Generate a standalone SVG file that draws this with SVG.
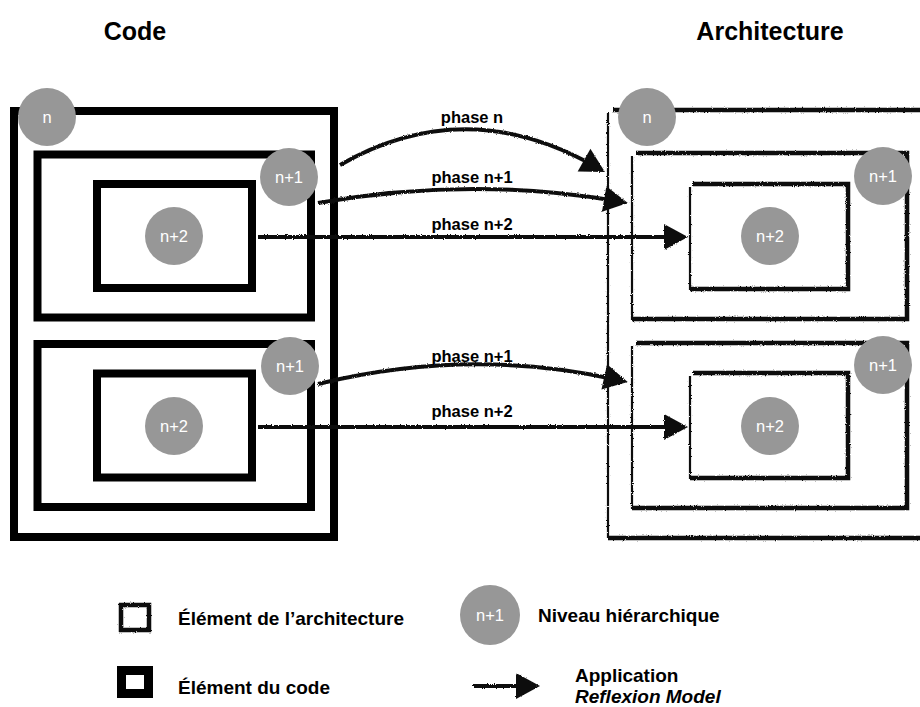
<svg xmlns="http://www.w3.org/2000/svg" width="920" height="707" viewBox="0 0 920 707">
<style>
  .code { fill: none; stroke: #000; stroke-width: 8; }
  .archThin { fill: none; stroke: #111; stroke-width: 2.2; }
  .archThick { fill: none; stroke: #111; stroke-width: 4.5; stroke-linejoin: miter; }
  .dot { fill: #979797; }
  .dotTxt { font-family: "Liberation Sans", Arial, sans-serif; font-size: 16.5px; fill: #fff; text-anchor: middle; }
  .title { font-family: "Liberation Sans", Arial, sans-serif; font-size: 25px; font-weight: bold; fill: #000; text-anchor: middle; }
  .phase { font-family: "Liberation Sans", Arial, sans-serif; font-size: 16.5px; font-weight: bold; fill: #000; text-anchor: middle; }
  .legend { font-family: "Liberation Sans", Arial, sans-serif; font-size: 19px; font-weight: bold; fill: #000; }
  .conn { fill: none; stroke: #111; stroke-width: 4; marker-end: url(#head); }
</style>
<defs>
  <filter id="rough" filterUnits="userSpaceOnUse" x="0" y="0" width="920" height="707">
    <feTurbulence type="fractalNoise" baseFrequency="0.9" numOctaves="2" seed="3" result="t"/>
    <feDisplacementMap in="SourceGraphic" in2="t" scale="2.5" xChannelSelector="R" yChannelSelector="G"/>
  </filter>
  <marker id="head" markerUnits="userSpaceOnUse" markerWidth="28" markerHeight="28" refX="12" refY="13" orient="auto" overflow="visible">
    <path d="M0,0 L24,13 L0,26 z" fill="#111"/>
  </marker>
</defs>
<rect width="920" height="707" fill="#fff"/>

<text class="title" x="135" y="40">Code</text>
<text class="title" x="770" y="40">Architecture</text>

<!-- Code side -->
<g id="code-n">
  <rect class="code" x="14" y="111" width="320" height="426"/>
  <circle class="dot" cx="47" cy="117" r="29"/>
  <text class="dotTxt" x="47" y="122.5">n</text>
</g>
<g id="code-n1-a">
  <rect class="code" x="37.5" y="154.5" width="273.5" height="163"/>
  <circle class="dot" cx="289" cy="177" r="29"/>
  <text class="dotTxt" x="289" y="183">n+1</text>
</g>
<g id="code-n2-a">
  <rect class="code" x="97" y="184" width="155" height="104"/>
  <circle class="dot" cx="174" cy="236" r="29"/>
  <text class="dotTxt" x="174" y="242">n+2</text>
</g>
<g id="code-n1-b">
  <rect class="code" x="37.5" y="344" width="273.5" height="163"/>
  <circle class="dot" cx="290" cy="366" r="29"/>
  <text class="dotTxt" x="290" y="372">n+1</text>
</g>
<g id="code-n2-b">
  <rect class="code" x="97" y="373.5" width="155" height="104"/>
  <circle class="dot" cx="174" cy="426" r="29"/>
  <text class="dotTxt" x="174" y="432">n+2</text>
</g>

<!-- Architecture side -->
<g id="arch-n">
  <g filter="url(#rough)">
    <path class="archThin" d="M608,113 L608,538"/>
    <path class="archThick" d="M613,110 L925,110 M608,538 L925,538"/>
  </g>
  <circle class="dot" cx="647" cy="117" r="29"/>
  <text class="dotTxt" x="647" y="122.5">n</text>
</g>
<g id="arch-n1-a">
  <g filter="url(#rough)">
    <path class="archThin" d="M632,156 L632,320"/>
    <path class="archThick" d="M636,153 L907,153 L907,319 L632,319"/>
  </g>
  <circle class="dot" cx="883" cy="176" r="29"/>
  <text class="dotTxt" x="883" y="182">n+1</text>
</g>
<g id="arch-n2-a">
  <g filter="url(#rough)">
    <path class="archThin" d="M690,187 L690,290"/>
    <path class="archThick" d="M693,184 L848,184 L848,289 L690,289"/>
  </g>
  <circle class="dot" cx="770" cy="236" r="29"/>
  <text class="dotTxt" x="770" y="242">n+2</text>
</g>
<g id="arch-n1-b">
  <g filter="url(#rough)">
    <path class="archThin" d="M632,346 L632,509"/>
    <path class="archThick" d="M636,343 L907,343 L907,508 L632,508"/>
  </g>
  <circle class="dot" cx="883" cy="365" r="29"/>
  <text class="dotTxt" x="883" y="371">n+1</text>
</g>
<g id="arch-n2-b">
  <g filter="url(#rough)">
    <path class="archThin" d="M690,376 L690,479"/>
    <path class="archThick" d="M693,373 L848,373 L848,478 L690,478"/>
  </g>
  <circle class="dot" cx="770" cy="426" r="29"/>
  <text class="dotTxt" x="770" y="432">n+2</text>
</g>

<!-- Connectors -->
<g id="connectors">
  <g filter="url(#rough)">
    <path class="conn" d="M340,165 Q465,93 594.5,166"/>
    <path class="conn" d="M318,203 Q470,176 616,201"/>
    <path class="conn" d="M258,237 L676,237"/>
    <path class="conn" d="M318,384 Q470,347 616,379.5"/>
    <path class="conn" d="M258,427 L676,427"/>
  </g>
  <text class="phase" x="472" y="123">phase n</text>
  <text class="phase" x="472" y="183">phase n+1</text>
  <text class="phase" x="472" y="230">phase n+2</text>
  <text class="phase" x="472" y="362">phase n+1</text>
  <text class="phase" x="472" y="417">phase n+2</text>
</g>

<!-- Legend -->
<g id="legend-arch">
  <rect x="121" y="605" width="28" height="25" fill="none" stroke="#111" stroke-width="4.5" filter="url(#rough)"/>
  <text class="legend" x="178" y="625">Élément de l’architecture</text>
</g>
<g id="legend-code">
  <rect x="121.5" y="670.5" width="27" height="23" fill="none" stroke="#000" stroke-width="9"/>
  <text class="legend" x="178" y="694">Élément du code</text>
</g>
<g id="legend-level">
  <circle class="dot" cx="490" cy="615" r="30"/>
  <text class="dotTxt" x="490" y="621">n+1</text>
  <text class="legend" x="538" y="622">Niveau hiérarchique</text>
</g>
<g id="legend-arrow">
  <path class="conn" d="M473,686 L528,686" filter="url(#rough)"/>
  <text class="legend" x="575" y="682">Application</text>
  <text class="legend" x="575" y="703" font-style="italic">Reflexion Model</text>
</g>
</svg>
